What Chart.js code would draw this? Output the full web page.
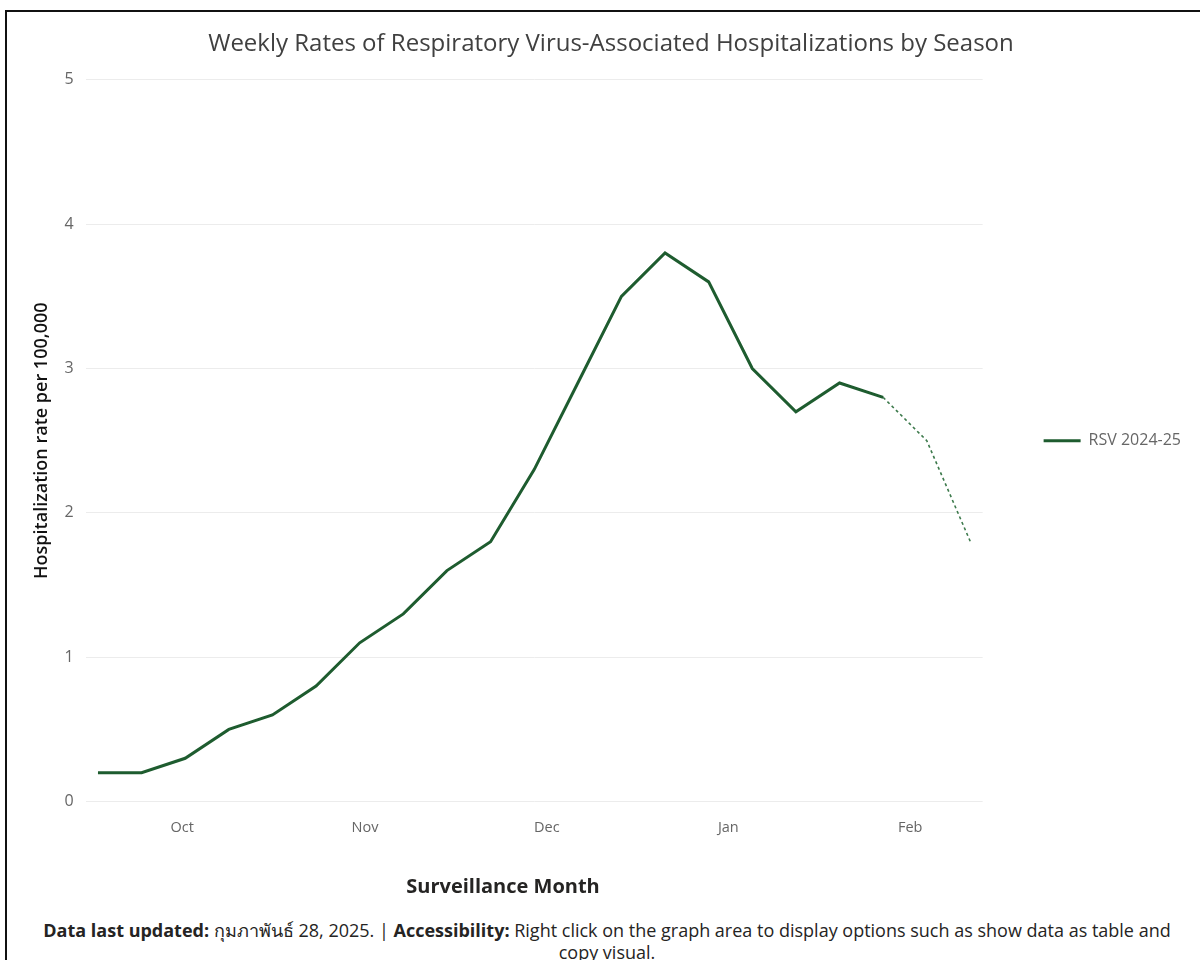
<!DOCTYPE html>
<html lang="en">
<head>
    <meta charset="UTF-8">
    <title>Weekly Rates of Respiratory Virus-Associated Hospitalizations by Season</title>
    <script src="https://cdn.jsdelivr.net/npm/chart.js"></script>
    <style>
        html, body { margin: 0; padding: 0; background: #fff; overflow: hidden; }
        body { width: 1200px; height: 960px; position: relative; font-family: "Open Sans", "Noto Sans", sans-serif; }
        #frame { position: absolute; left: 5px; top: 10px; width: 1300px; height: 1000px;
                 border-top: 2px solid #111; border-left: 2px solid #111; }
        #chartBox { position: absolute; left: 0; top: 0; width: 1200px; height: 910px; }
        #footer { position: absolute; left: 30px; top: 919px; width: 1154px; text-align: center;
                  font-size: 18px; line-height: 22px; color: #252423; }
        #footer b { color: #252423; }
    </style>
</head>
<body>
    <div id="frame"></div>
    <div id="chartBox"><canvas id="rsvChart"></canvas></div>
    <div id="footer">
        <b>Data last updated:</b> กุมภาพันธ์ 28, 2025. | <b>Accessibility:</b> Right click on the graph area to display options such as show data as table and copy visual.
    </div>

    <script>
        // weekly RSV rates, season 2024-25 (one value per surveillance week)
        const seriesName = 'RSV 2024-25';
        const weeklyRates = [0.2, 0.2, 0.3, 0.5, 0.6, 0.8, 1.1, 1.3, 1.6, 1.8, 2.3,
                             2.9, 3.5, 3.8, 3.6, 3.0, 2.7, 2.9, 2.8, 2.5, 1.8];
        const lastCompleteWeek = 18;   // weeks after this one are still provisional (dashed)

        // month labels on the x axis and where they fall, in weeks from the first point
        const monthLabels = ['Oct', 'Nov', 'Dec', 'Jan', 'Feb'];
        const monthWeeks = [1.93, 6.12, 10.29, 14.45, 18.62];

        const yTicks = [0, 1, 2, 3, 4, 5];

        const lineColor = '#1e5c2f';

        const finalPoints = weeklyRates.map((v, i) => ({ x: i, y: i <= lastCompleteWeek ? v : null }));
        const provisionalPoints = weeklyRates.map((v, i) => ({ x: i, y: i >= lastCompleteWeek ? v : null }));

        new Chart(document.getElementById('rsvChart'), {
            type: 'line',
            data: {
                datasets: [{
                    label: seriesName,
                    data: finalPoints,
                    borderColor: lineColor,
                    backgroundColor: lineColor,
                    borderWidth: 3,
                    pointRadius: 0,
                    tension: 0
                }, {
                    label: seriesName + ' (provisional)',
                    data: provisionalPoints,
                    borderColor: '#3d7a4c',
                    backgroundColor: '#3d7a4c',
                    borderWidth: 1.6,
                    borderDash: [3, 3],
                    pointRadius: 0,
                    tension: 0
                }]
            },
            options: {
                responsive: true,
                maintainAspectRatio: false,
                animation: false,
                layout: {
                    padding: { left: 31, right: 9, top: 30, bottom: 11 }
                },
                plugins: {
                    title: {
                        display: true,
                        text: 'Weekly Rates of Respiratory Virus-Associated Hospitalizations by Season',
                        color: '#404040',
                        font: { family: 'Open Sans', size: 24, weight: 'normal' },
                        padding: { top: 0, bottom: 21 }
                    },
                    legend: {
                        position: 'right',
                        align: 'center',
                        fullSize: false,
                        labels: {
                            filter: item => item.datasetIndex === 0,
                            usePointStyle: true,
                            pointStyle: 'line',
                            pointStyleWidth: 37,
                            padding: 61,
                            color: '#666666',
                            font: { family: 'Open Sans', size: 16 }
                        }
                    },
                    tooltip: { enabled: false }
                },
                scales: {
                    x: {
                        type: 'linear',
                        min: -0.28,
                        max: weeklyRates.length - 1 + 0.28,
                        afterBuildTicks: scale => {
                            scale.ticks = monthWeeks.map(w => ({ value: w }));
                        },
                        ticks: {
                            autoSkip: false,
                            maxRotation: 0,
                            padding: 18,
                            color: '#666666',
                            font: { family: 'Open Sans', size: 14.5 },
                            callback: (value, index) => monthLabels[index]
                        },
                        grid: { display: false, drawTicks: false },
                        border: { display: false },
                        title: {
                            display: true,
                            // trailing spaces pull the centred title left, as in the original
                            text: 'Surveillance Month' + '\u00a0'.repeat(12),
                            color: '#252423',
                            font: { family: 'Open Sans', size: 20, weight: 'bold' },
                            padding: { top: 20, bottom: 0 }
                        }
                    },
                    y: {
                        min: 0,
                        max: 5,
                        afterBuildTicks: scale => {
                            scale.ticks = yTicks.map(v => ({ value: v }));
                        },
                        ticks: {
                            padding: 12,
                            color: '#666666',
                            font: { family: 'Open Sans', size: 16 }
                        },
                        grid: { color: '#ececec', lineWidth: 1, drawTicks: false },
                        border: { display: false },
                        title: {
                            display: true,
                            text: 'Hospitalization rate per 100,000',
                            color: '#111111',
                            font: { family: 'Open Sans', size: 18, weight: '600' },
                            padding: { top: 0, bottom: 0 }
                        }
                    }
                }
            }
        });
    </script>
</body>
</html>
